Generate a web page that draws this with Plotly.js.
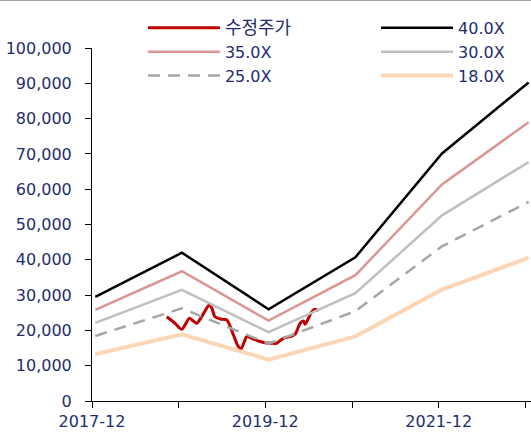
<!DOCTYPE html>
<html>
<head>
<meta charset="utf-8">
<script src="https://cdn.plot.ly/plotly-3.0.1.min.js"></script>
<style>html,body{margin:0;padding:0;background:#fff;}#chart{width:531px;height:432px;}</style>
</head>
<body>
<div id="chart"></div>
<script>
// Band dates (year-end points) and PER band values
const bandDates = ['2017-12-15','2018-12-15','2019-12-15','2020-12-15','2021-12-15','2022-12-15'];
const per40 = [29480, 42000, 26000, 40720, 70120, 90240];
const per35 = [25795, 36750, 22750, 35630, 61355, 78960];
const per30 = [22110, 31500, 19500, 30540, 52590, 67680];
const per25 = [18425, 26250, 16250, 25450, 43825, 56400];
const per18 = [13266, 18900, 11700, 18324, 31554, 40608];

// Adjusted share price (수정주가)
const priceDates = ['2018-10-12','2018-11-16','2018-12-14','2019-01-01','2019-01-15','2019-02-01','2019-02-15','2019-03-08','2019-03-29','2019-04-09','2019-04-20','2019-05-03','2019-05-25','2019-06-22','2019-07-20','2019-08-10','2019-08-21','2019-09-04','2019-09-14','2019-10-05','2019-11-02','2019-11-30','2019-12-28','2020-01-18','2020-02-15','2020-03-15','2020-04-05','2020-04-26','2020-05-10','2020-05-17','2020-05-31','2020-06-14','2020-06-28','2020-07-12'];
const price = [23880, 22010, 20310, 22010, 23430, 22660, 22010, 23880, 26260, 27200, 26260, 23880, 23230, 22950, 18700, 15380, 14730, 16800, 18220, 17760, 17000, 16520, 16350, 16350, 17760, 18220, 18900, 22010, 22660, 21730, 23430, 25300, 25980, 25580];

// Axis ticks
const tickDates = ['2017-12-01','2018-12-01','2019-12-01','2020-12-01','2021-12-01','2022-12-01'];
const tickLabels = ['2017-12','','2019-12','','2021-12',''];
const yTicks = [0,10000,20000,30000,40000,50000,60000,70000,80000,90000,100000];

const navy = '#1f2d6e';
const fontFam = 'DejaVu Sans, Noto Sans CJK KR, sans-serif';

const traces = [
  {x: priceDates, y: price, name: '<span style="font-size:18px">수정주가</span>', mode: 'lines', legend: 'legend',
   line: {color: '#c00000', width: 3, shape: 'spline', smoothing: 0.8}},
  {x: bandDates, y: per40, name: '40.0X', mode: 'lines', legend: 'legend2',
   line: {color: '#000000', width: 2.5}},
  {x: bandDates, y: per35, name: '35.0X', mode: 'lines', legend: 'legend',
   line: {color: '#d99694', width: 2.5}},
  {x: bandDates, y: per30, name: '30.0X', mode: 'lines', legend: 'legend2',
   line: {color: '#bfbfbf', width: 2.5}},
  {x: bandDates, y: per25, name: '25.0X', mode: 'lines', legend: 'legend',
   line: {color: '#a6a6a6', width: 2.5, dash: '12px,8px'}},
  {x: bandDates, y: per18, name: '18.0X', mode: 'lines', legend: 'legend2',
   line: {color: '#fcd5b5', width: 4}}
];

const legendBase = {
  yref: 'paper', xref: 'paper', xanchor: 'left', yanchor: 'top',
  bgcolor: 'rgba(0,0,0,0)', borderwidth: 0, tracegroupgap: 0,
  font: {family: fontFam, size: 16, color: navy}, itemwidth: 72,
  traceorder: 'normal'
};

const layout = {
  width: 531, height: 432,
  margin: {l: 92, r: 0, t: 48, b: 31, autoexpand: false},
  paper_bgcolor: '#ffffff', plot_bgcolor: '#ffffff',
  font: {family: fontFam, size: 16, color: navy},
  showlegend: true,
  legend: Object.assign({}, legendBase, {x: 0.116, y: 1.105}),
  legend2: Object.assign({}, legendBase, {x: 0.647, y: 1.105}),
  xaxis: {
    type: 'date', range: ['2017-12-01','2022-12-25'],
    tickvals: tickDates, ticktext: tickLabels,
    showgrid: false, zeroline: false,
    showline: true, linecolor: '#000', linewidth: 1,
    ticks: 'outside', ticklen: 6, tickcolor: '#000',
    tickfont: {family: fontFam, size: 16, color: navy}
  },
  yaxis: {
    range: [0, 100000], tickvals: yTicks,
    tickformat: ',d', showgrid: false, zeroline: false,
    showline: true, linecolor: '#000', linewidth: 1,
    ticks: 'outside', ticklen: 6, tickcolor: '#000',
    ticklabelstandoff: 10,
    tickfont: {family: fontFam, size: 16, color: navy}
  },
  shapes: [
    {type: 'line', xref: 'paper', yref: 'paper', x0: -0.21, x1: 1.0, y0: 1.135, y1: 1.135,
     line: {color: '#a0a0a0', width: 1.5}}
  ]
};

Plotly.newPlot('chart', traces, layout, {displayModeBar: false, staticPlot: true});
</script>
</body>
</html>
